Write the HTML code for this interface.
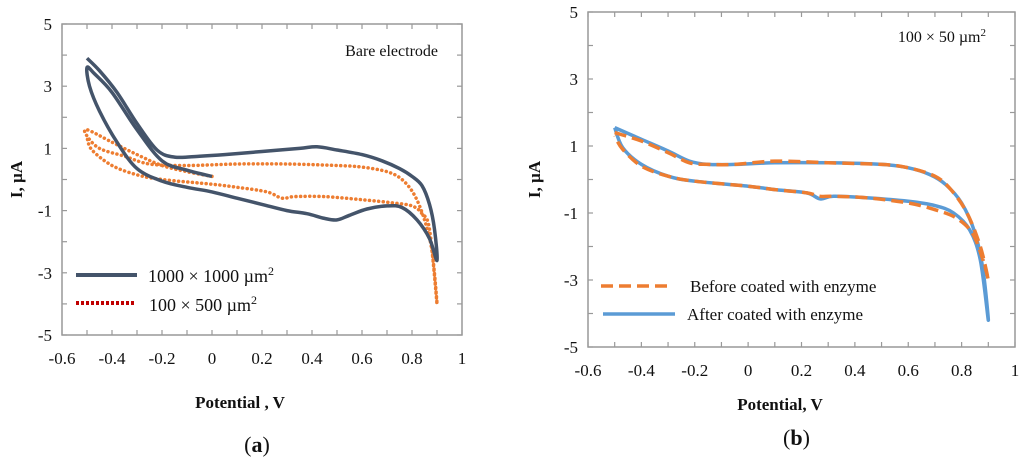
<!DOCTYPE html>
<html><head><meta charset="utf-8"><style>
html,body{margin:0;padding:0;background:#fff}
svg{display:block}
text{font-family:"Liberation Serif",serif;fill:#111}
</style></head><body>
<svg id="chart" width="1024" height="464" viewBox="0 0 1024 464"></svg>
<script>
// ---- Panel (a) data ----
const aDarkX=[0,-0.1,-0.2,-0.3,-0.4,-0.47,-0.5,-0.49,-0.45,-0.38,-0.3,-0.2,-0.1,0,0.1,0.2,0.3,0.38,0.45,0.5,0.55,0.62,0.7,0.76,0.82,0.87,0.9,0.89,0.87,0.84,0.8,0.75,0.68,0.6,0.5,0.42,0.35,0.2,0.05,-0.05,-0.15,-0.22,-0.3,-0.38,-0.45,-0.5];
const aDarkY=[0.1,0.3,0.6,1.6,2.8,3.4,3.6,3.0,2.2,1.2,0.35,-0.05,-0.25,-0.4,-0.6,-0.8,-1.0,-1.1,-1.25,-1.3,-1.15,-0.95,-0.85,-0.9,-1.3,-1.9,-2.6,-1.6,-0.8,-0.2,0.1,0.35,0.6,0.8,0.95,1.05,1.0,0.9,0.8,0.75,0.72,0.95,1.8,2.8,3.5,3.9];
const aOrX=[0,-0.1,-0.2,-0.3,-0.4,-0.5,-0.5,-0.45,-0.35,-0.25,-0.1,0.1,0.3,0.5,0.6,0.7,0.76,0.81,0.85,0.88,0.9,0.87,0.84,0.8,0.72,0.6,0.45,0.33,0.28,0.22,0.1,0,-0.2,-0.3,-0.4,-0.48,-0.5];
const aOrY=[0.1,0.25,0.45,0.8,1.2,1.6,1.4,1.0,0.75,0.5,0.45,0.5,0.5,0.45,0.4,0.25,0.0,-0.5,-1.3,-2.3,-4.0,-1.6,-1.1,-0.85,-0.75,-0.65,-0.55,-0.55,-0.6,-0.4,-0.25,-0.15,0.0,0.15,0.45,0.95,1.35];
// ---- Panel (b) data ----
const bBlueX=[-0.5,-0.4,-0.3,-0.22,-0.15,-0.05,0.1,0.3,0.5,0.6,0.68,0.74,0.8,0.85,0.88,0.9,0.87,0.83,0.77,0.7,0.6,0.45,0.32,0.27,0.22,0.1,0,-0.2,-0.3,-0.4,-0.47,-0.5];
const bBlueY=[1.55,1.2,0.85,0.55,0.45,0.45,0.5,0.5,0.45,0.35,0.15,-0.15,-0.7,-1.6,-2.7,-4.2,-2.4,-1.5,-1.0,-0.78,-0.65,-0.55,-0.5,-0.58,-0.4,-0.3,-0.2,-0.05,0.1,0.45,0.95,1.55];
const bOrX=[-0.5,-0.4,-0.3,-0.22,-0.15,-0.05,0.1,0.3,0.5,0.6,0.7,0.76,0.82,0.87,0.9,0.88,0.84,0.78,0.7,0.6,0.45,0.32,0.27,0.22,0.1,0,-0.2,-0.3,-0.4,-0.47,-0.5];
const bOrY=[1.4,1.15,0.8,0.5,0.45,0.45,0.55,0.5,0.45,0.35,0.1,-0.3,-1.0,-2.0,-3.0,-2.4,-1.6,-1.15,-0.9,-0.7,-0.55,-0.5,-0.5,-0.4,-0.3,-0.2,-0.05,0.1,0.4,0.9,1.3];
const xTicks=[-0.6,-0.4,-0.2,0,0.2,0.4,0.6,0.8,1];
const xTickLabels=["-0.6","-0.4","-0.2","0","0.2","0.4","0.6","0.8","1"];
const yTicks=[-5,-3,-1,1,3,5];
const yTickLabels=["-5","-3","-1","1","3","5"];

const NS="http://www.w3.org/2000/svg";
const svg=document.getElementById('chart');
function mk(tag,attrs,parent){const e=document.createElementNS(NS,tag);for(const k in attrs)e.setAttribute(k,attrs[k]);(parent||svg).appendChild(e);return e;}
function smooth(pts){let d="M"+pts[0][0]+","+pts[0][1];for(let i=0;i<pts.length-1;i++){const p0=pts[Math.max(0,i-1)],p1=pts[i],p2=pts[i+1],p3=pts[Math.min(pts.length-1,i+2)];const c1=[p1[0]+(p2[0]-p0[0])/6,p1[1]+(p2[1]-p0[1])/6],c2=[p2[0]-(p3[0]-p1[0])/6,p2[1]-(p3[1]-p1[1])/6];d+=" C"+c1.join(",")+" "+c2.join(",")+" "+p2.join(",");}return d;}

function panel(id,L,R,T,B,xlabY,titleY,titleX,titleText,capY,capText,ylabX){
  const g=mk('g',{});
  
  
  const sx=v=>L+(v+0.6)/1.6*(R-L), sy=v=>T+(5-v)/10*(B-T);
  const frame=mk('rect',{x:L,y:T,width:R-L,height:B-T,fill:'none',stroke:'#999','stroke-width':1.5},g);
  
  
  for(let v=-6;v<=10;v++){const x=sx(v/10);mk('line',{x1:x,x2:x,y1:B,y2:B-5,stroke:'#999','stroke-width':1.2},g);mk('line',{x1:x,x2:x,y1:T,y2:T+5,stroke:'#999','stroke-width':1.2},g);}
  for(let v=-5;v<=5;v++){const y=sy(v);mk('line',{x1:L,x2:L+5,y1:y,y2:y,stroke:'#999','stroke-width':1.2},g);mk('line',{x1:R,x2:R-5,y1:y,y2:y,stroke:'#999','stroke-width':1.2},g);}
  xTicks.forEach((v,i)=>{const t=mk('text',{x:sx(v),y:xlabY,'text-anchor':'middle','font-size':17},g);t.textContent=xTickLabels[i];
    
    });
  yTicks.forEach((v,i)=>{const t=mk('text',{x:L-10,y:sy(v)+6,'text-anchor':'end','font-size':17},g);t.textContent=yTickLabels[i];
    
    });
  const xt=mk('text',{x:titleX,y:titleY,'text-anchor':'middle','font-size':17,'font-weight':'bold'},g);xt.textContent=titleText;
  
  
  const yt=mk('text',{x:0,y:0,'text-anchor':'middle','font-size':17,'font-weight':'bold',transform:`translate(${ylabX},${(T+B)/2}) rotate(-90)`},g);yt.textContent="I, µA";
  
  
  const cap=mk('text',{x:(L+R)/2-5,y:capY,'text-anchor':'middle','font-size':22},g);
  cap.innerHTML=capText;
  
  
  return {g,sx,sy};
}
function series(p,xs,ys,attrs,name){const pts=xs.map((x,i)=>[p.sx(x).toFixed(1),p.sy(ys[i]).toFixed(1)].map(Number));const e=mk('path',Object.assign({d:smooth(pts),fill:'none'},attrs),p.g);
  
  }

// Panel a
const pa=panel('a',62,462,24,335,364,408,240,"Potential , V",452,'(<tspan font-weight="bold">a</tspan>)',22);
series(pa,aOrX,aOrY,{stroke:'#ed7d31','stroke-width':3.5,'stroke-dasharray':'0.1 4.5','stroke-linecap':'round'},'series-100x500');
series(pa,aDarkX,aDarkY,{stroke:'#44546a','stroke-width':3.5,'stroke-linejoin':'round'},'series-1000x1000');
let t=mk('text',{x:438,y:56,'text-anchor':'end','font-size':16},pa.g);t.textContent="Bare electrode";


let l=mk('line',{x1:76,x2:137,y1:275,y2:275,stroke:'#44546a','stroke-width':4},pa.g);


t=mk('text',{x:148,y:282,'font-size':18},pa.g);t.innerHTML='1000 × 1000 µm<tspan dy="-7" font-size="12">2</tspan>';


l=mk('line',{x1:76,x2:136,y1:303,y2:303,stroke:'#c00000','stroke-width':4,'stroke-dasharray':'3 2'},pa.g);


t=mk('text',{x:149,y:311,'font-size':18},pa.g);t.innerHTML='100 × 500 µm<tspan dy="-7" font-size="12">2</tspan>';



// Panel b
const pb=panel('b',588,1015,12,347,376,410,780,"Potential,  V",445,'(<tspan font-weight="bold">b</tspan>)',540);
series(pb,bBlueX,bBlueY,{stroke:'#5b9bd5','stroke-width':3.5,'stroke-linejoin':'round'},'series-after-coated');
series(pb,bOrX,bOrY,{stroke:'#ed7d31','stroke-width':3.5,'stroke-dasharray':'12 6'},'series-before-coated');
t=mk('text',{x:986,y:42,'text-anchor':'end','font-size':16},pb.g);t.innerHTML='100 × 50 µm<tspan dy="-6" font-size="11">2</tspan>';


l=mk('line',{x1:601,x2:672,y1:286,y2:286,stroke:'#ed7d31','stroke-width':3.5,'stroke-dasharray':'12 6'},pb.g);


t=mk('text',{x:690,y:292,'font-size':17},pb.g);t.textContent="Before coated with enzyme";


l=mk('line',{x1:603,x2:675,y1:314,y2:314,stroke:'#5b9bd5','stroke-width':3.5},pb.g);


t=mk('text',{x:687,y:320,'font-size':17},pb.g);t.textContent="After coated with enzyme";


</script>
</body></html>
